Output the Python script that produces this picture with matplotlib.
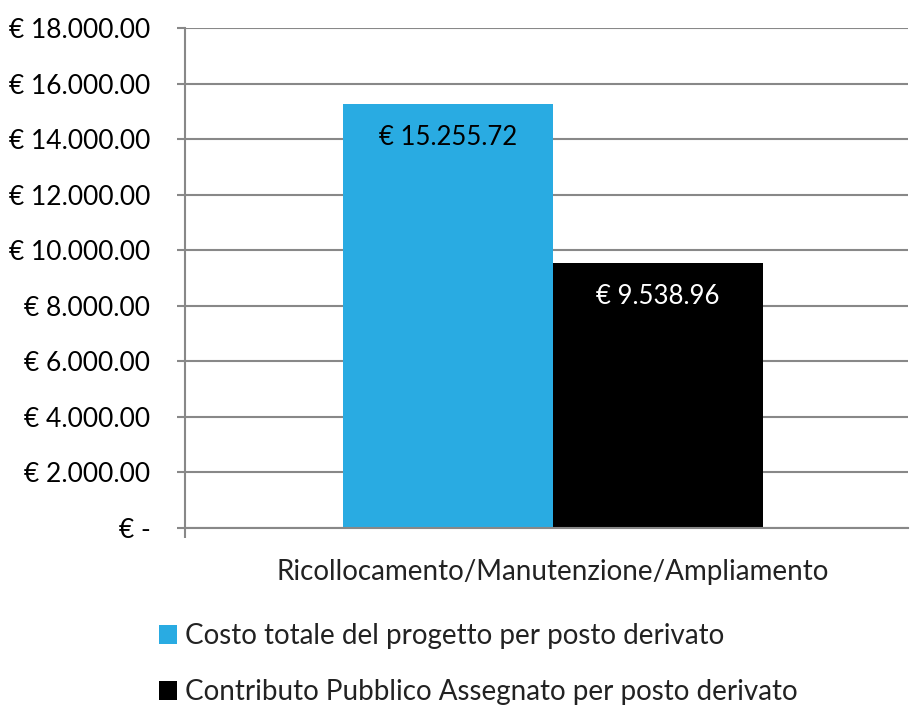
import matplotlib.pyplot as plt
from matplotlib.patches import Patch

# Data
category = 'Ricollocamento/Manutenzione/Ampliamento'
series = ['Costo totale del progetto per posto derivato',
          'Contributo Pubblico Assegnato per posto derivato']
values = [15255.72, 9538.96]
colors = ['#29abe2', '#000000']
label_colors = ['black', 'white']
yticks = list(range(0, 18001, 2000))


def euro(v):
    if v == 0:
        return '€ -'
    s = f'{v:,.2f}'.replace(',', '.')
    return '€ ' + s


grid = '#888888'
tick_font = 'Lato'
light_font = 'Lato'

fig = plt.figure(figsize=(9.12, 7.06), dpi=100)
ax = fig.add_axes([185 / 912, 1 - 528 / 706, 723 / 912, 500 / 706])

xs = [-0.25, 0.25]
ax.bar(xs, values, width=0.5, color=colors, zorder=2)
for x, v, c in zip(xs, values, label_colors):
    ax.annotate(euro(v), (x, v), xytext=(0, -33), textcoords='offset pixels',
                ha='center', va='center', color=c, fontsize=18.5, family=tick_font)

ax.set_ylim(0, 18000)
ax.set_xlim(-0.876, 0.845)
ax.set_yticks(yticks)
ax.set_yticklabels([euro(v) for v in yticks], fontsize=19, family=tick_font)
ax.yaxis.grid(True, color=grid, linewidth=1.5, zorder=0)
ax.tick_params(axis='y', length=6, width=1.5, color=grid, pad=19)
ax.set_xticks([-0.876])
ax.set_xticklabels([''])
ax.tick_params(axis='x', length=7, width=1.5, color=grid)

for s in ['top', 'right']:
    ax.spines[s].set_visible(False)
for s in ['left', 'bottom']:
    ax.spines[s].set_color(grid)
    ax.spines[s].set_linewidth(1.5)

fig.text(553 / 912, 1 - 572 / 706, category, ha='center', va='center',
         fontsize=20, family=light_font, color='#222222')

handles = [Patch(facecolor=c) for c in colors]
fig.legend(handles, series, loc='upper left', bbox_to_anchor=(134 / 912, 1 - 598 / 706),
           frameon=False, prop={'family': light_font, 'size': 20},
           handlelength=0.65, handleheight=0.65, handletextpad=0.3, labelspacing=1.08,
           labelcolor='#222222')

fig.savefig('out.png', dpi=100)
